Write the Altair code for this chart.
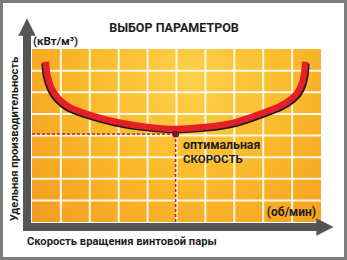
import altair as alt
import pandas as pd

# ---- data ----
curve_x = [0.48, 0.53, 0.68, 0.91, 1.26, 1.83, 2.87, 3.91, 4.95, 5.99, 7.02, 7.96, 8.58, 9.00, 9.27, 9.41, 9.45]
curve_y = [7.41, 6.80, 6.18, 5.72, 5.34, 5.03, 4.64, 4.41, 4.30, 4.39, 4.61, 5.03, 5.36, 5.72, 6.18, 6.80, 7.41]
opt_x = [4.97]
opt_y = [4.07]
grid_cols = [1, 2, 3, 4, 5, 6, 7, 8, 9]
grid_rows = [1, 2, 3, 4, 5, 6, 7]
x_extent = [0, 10]
y_extent = [0, 8]

title_text = "ВЫБОР ПАРАМЕТРОВ"
y_unit = "(кВт/м³)"
x_unit = "(об/мин)"
x_label = "Скорость вращения винтовой пары"
y_label = "Удельная производительность"
opt_line1 = "оптимальная"
opt_line2 = "СКОРОСТЬ"

FONT = "Liberation Sans Narrow, Arial Narrow, Roboto, sans-serif"

xs = alt.Scale(domain=[-1.107, 10.90], range=[0, 347], nice=False, zero=False)
ys = alt.Scale(domain=[-1.757, 10.266], range=[260, 0], nice=False, zero=False)

curve = pd.DataFrame({"x": curve_x, "y": curve_y, "i": list(range(len(curve_x)))})
opt = pd.DataFrame({"x": opt_x, "y": opt_y, "x0": [x_extent[0]], "y0": [y_extent[0]]})
area = pd.DataFrame({"x": [x_extent[0]], "x2": [x_extent[1]], "y": [y_extent[0]], "y2": [y_extent[1]]})
vgrid = pd.DataFrame({"x": grid_cols, "y": y_extent[0], "y2": y_extent[1]})
hgrid = pd.DataFrame({"y": grid_rows, "x": x_extent[0], "x2": x_extent[1]})
one = alt.Data(values=[{}])

X = lambda f: alt.X(f, scale=xs, axis=None)
Y = lambda f: alt.Y(f, scale=ys, axis=None)

grad = alt.RadialGradient(
    gradient="radial", x1=0.55, y1=0.3, x2=0.55, y2=0.3, r1=0, r2=0.75,
    stops=[
        alt.GradientStop(offset=0, color="#fdd04a"),
        alt.GradientStop(offset=0.45, color="#fbbb2c"),
        alt.GradientStop(offset=1, color="#f39a20"),
    ],
)

bg = alt.Chart(area).mark_rect(fill=grad).encode(x=X("x:Q"), x2="x2", y=Y("y:Q"), y2="y2")
vg = alt.Chart(vgrid).mark_rule(color="#fff8e6", strokeWidth=2).encode(x=X("x:Q"), y=Y("y:Q"), y2="y2")
hg = alt.Chart(hgrid).mark_rule(color="#fff8e6", strokeWidth=2).encode(y=Y("y:Q"), x=X("x:Q"), x2="x2")

dash_h = alt.Chart(opt).mark_rule(color="#a8283c", strokeWidth=1.5, strokeDash=[3, 2]).encode(
    x=X("x0:Q"), x2="x", y=Y("y:Q"))
dash_v = alt.Chart(opt).mark_rule(color="#a8283c", strokeWidth=1.5, strokeDash=[3, 2]).encode(
    x=X("x:Q"), y=Y("y0:Q"), y2="y")

INTERP = "natural"
shadow_l = alt.Chart(curve).transform_filter("datum.x <= 5").mark_line(
    color="#1a1a1a", strokeWidth=6, interpolate=INTERP, xOffset=-1.5, yOffset=1.5, strokeCap="butt"
).encode(x=X("x:Q"), y=Y("y:Q"), order="i:Q")
shadow_r = alt.Chart(curve).transform_filter("datum.x >= 4.9").mark_line(
    color="#1a1a1a", strokeWidth=6, interpolate=INTERP, xOffset=1.5, yOffset=1.5, strokeCap="butt"
).encode(x=X("x:Q"), y=Y("y:Q"), order="i:Q")
red = alt.Chart(curve).mark_line(color="#e41f26", strokeWidth=6.5, interpolate=INTERP, strokeCap="butt").encode(
    x=X("x:Q"), y=Y("y:Q"), order="i:Q")
dot = alt.Chart(opt).mark_point(filled=True, color="#7a1622", size=50, opacity=1).encode(x=X("x:Q"), y=Y("y:Q"))

# axis arrows
ybar = alt.Chart(one).mark_rule(color="#555555", strokeWidth=8, strokeCap="butt").encode(
    x=alt.value(27), y=alt.value(32), y2=alt.value(231))
xbar = alt.Chart(one).mark_rule(color="#555555", strokeWidth=8, strokeCap="butt").encode(
    y=alt.value(227), x=alt.value(23), x2=alt.value(320))
yhead = alt.Chart(one).mark_point(shape="M-1,1L0,-1L1,1Z", filled=True, color="#555555", size=300, opacity=1).encode(
    x=alt.value(27), y=alt.value(27))
xhead = alt.Chart(one).mark_point(shape="M-1,-1L1,0L-1,1Z", filled=True, color="#555555", size=300, opacity=1).encode(
    x=alt.value(325), y=alt.value(227))

frame = alt.Chart(one).mark_rect(fillOpacity=0, stroke="#7d7d7d", strokeWidth=3).encode(
    x=alt.value(1.5), x2=alt.value(345.5), y=alt.value(1.5), y2=alt.value(258.5))

def txt(s, x, y, size, align="left", weight="bold", angle=0, color="#1e1e1e"):
    kw = dict(text=s, align=align, baseline="alphabetic", font=FONT, fontSize=size,
              fontWeight=weight, color=color)
    if angle:
        kw["angle"] = angle
    return alt.Chart(one).mark_text(**kw).encode(x=alt.value(x), y=alt.value(y))

texts = [
    txt(title_text, 174, 32, 12.5, align="center"),
    txt(y_unit, 33, 45, 11.5),
    txt(x_unit, 316, 216, 12, align="right"),
    txt(opt_line1, 183, 148.5, 12.3),
    txt(opt_line2, 183, 163, 11.5),
    txt(x_label, 27, 245, 11.2),
    txt(y_label, 18, 139, 11.2, align="center", angle=270),
]

chart = alt.layer(
    bg, vg, hg, dash_h, dash_v, shadow_l, shadow_r, red, dot,
    ybar, xbar, yhead, xhead, *texts, frame
).properties(
    width=347, height=260, padding=0, autosize=alt.AutoSizeParams(type="none"), background="white"
).configure_view(stroke=None)

chart.save("out.html", embed_options={"renderer": "svg", "actions": False})
